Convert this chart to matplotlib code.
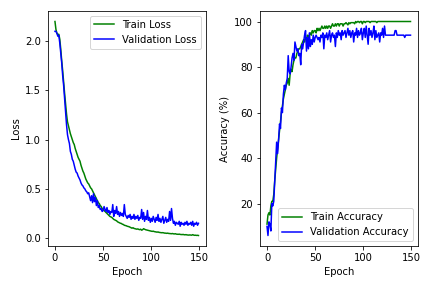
import matplotlib
matplotlib.use("Agg")
import matplotlib.pyplot as plt
import numpy as np

train_loss = [
    2.20, 2.12, 2.08, 2.07, 2.07, 2.02, 1.92, 1.80, 1.70, 1.58,
    1.47, 1.36, 1.26, 1.18, 1.14, 1.10, 1.06, 1.03, 1.00, 0.97,
    0.95, 0.91, 0.88, 0.85, 0.82, 0.80, 0.78, 0.74, 0.71, 0.68,
    0.66, 0.63, 0.60, 0.58, 0.56, 0.55, 0.53, 0.51, 0.50, 0.48,
    0.46, 0.44, 0.42, 0.40, 0.38, 0.36, 0.35, 0.33, 0.32, 0.30,
    0.29, 0.28, 0.27, 0.26, 0.25, 0.24, 0.23, 0.22, 0.215, 0.21,
    0.20, 0.19, 0.185, 0.18, 0.175, 0.165, 0.16, 0.155, 0.15, 0.148,
    0.14, 0.138, 0.13, 0.128, 0.125, 0.12, 0.118, 0.115, 0.11, 0.105,
    0.10, 0.105, 0.098, 0.095, 0.092, 0.09, 0.093, 0.088, 0.085, 0.09,
    0.08, 0.085, 0.095, 0.09, 0.085, 0.082, 0.08, 0.078, 0.075, 0.072,
    0.07, 0.068, 0.07, 0.066, 0.064, 0.062, 0.06, 0.062, 0.058, 0.056,
    0.055, 0.054, 0.055, 0.052, 0.05, 0.05, 0.048, 0.05, 0.047, 0.046,
    0.045, 0.044, 0.046, 0.043, 0.042, 0.044, 0.04, 0.039, 0.038, 0.04,
    0.037, 0.036, 0.035, 0.037, 0.034, 0.033, 0.035, 0.032, 0.031, 0.03,
    0.032, 0.03, 0.029, 0.035, 0.03, 0.028, 0.029, 0.027, 0.028, 0.026,
]
val_loss = [
    2.10, 2.10, 2.08, 2.05, 2.06, 1.98, 1.88, 1.78, 1.65, 1.55,
    1.42, 1.30, 1.15, 1.05, 1.00, 0.96, 0.88, 0.85, 0.80, 0.78,
    0.74, 0.70, 0.67, 0.66, 0.63, 0.61, 0.59, 0.56, 0.54, 0.53,
    0.51, 0.50, 0.48, 0.47, 0.45, 0.46, 0.42, 0.38, 0.43, 0.36,
    0.45, 0.37, 0.41, 0.33, 0.38, 0.31, 0.33, 0.29, 0.30, 0.27,
    0.28, 0.32, 0.29, 0.27, 0.31, 0.26, 0.28, 0.24, 0.27, 0.26,
    0.34, 0.22, 0.28, 0.25, 0.32, 0.24, 0.27, 0.22, 0.26, 0.23,
    0.25, 0.22, 0.34, 0.24, 0.22, 0.20, 0.23, 0.21, 0.24, 0.19,
    0.22, 0.20, 0.24, 0.19, 0.22, 0.20, 0.23, 0.18, 0.21, 0.20,
    0.29, 0.19, 0.26, 0.17, 0.22, 0.19, 0.28, 0.18, 0.21, 0.16,
    0.20, 0.17, 0.22, 0.19, 0.16, 0.21, 0.18, 0.24, 0.17, 0.20,
    0.16, 0.19, 0.22, 0.15, 0.18, 0.21, 0.16, 0.19, 0.17, 0.27,
    0.18, 0.30, 0.20, 0.15, 0.17, 0.13, 0.16, 0.15, 0.14, 0.17,
    0.12, 0.16, 0.14, 0.15, 0.13, 0.16, 0.14, 0.17, 0.13, 0.15,
    0.14, 0.16, 0.13, 0.17, 0.12, 0.15, 0.14, 0.16, 0.13, 0.15,
]
train_acc = [
    11, 15, 16, 15, 19, 21, 21, 24, 30, 35,
    40, 44, 48, 52, 56, 60, 63, 66, 68, 70,
    72, 73, 75, 72, 77, 79, 78, 81, 83, 84,
    84, 86, 87, 88, 88, 89, 90, 91, 92, 91,
    93, 92, 94, 93, 94, 95, 94, 96, 95, 96,
    96, 95, 97, 96, 97, 96, 97, 98, 97, 97,
    98, 97, 98, 97, 98, 98, 97, 98, 99, 98,
    98, 99, 98, 99, 99, 98, 99, 99, 99, 98,
    99, 99, 99.5, 99, 98.5, 99.5, 99, 99.5, 99.5, 99.5,
    99.5, 99, 100, 99.5, 100, 100, 99.5, 100, 100, 99,
    100, 100, 99.5, 100, 100, 100, 100, 99.5, 100, 100,
    100, 100, 100, 100, 99.5, 100, 100, 100, 100, 100,
    100, 100, 100, 100, 100, 100, 100, 100, 100, 100,
    100, 100, 100, 100, 100, 100, 100, 100, 100, 100,
    100, 100, 100, 100, 100, 100, 100, 100, 100, 100,
]
val_acc = [
    10, 6, 12, 11, 8, 20, 19, 21, 30, 38,
    47, 42, 48, 55, 53, 62, 60, 68, 72, 70,
    73, 75, 85, 78, 77, 80, 84, 86, 83, 91,
    89, 87, 88, 85, 86, 81, 90, 88, 91, 94,
    96, 87, 93, 88, 95, 89, 92, 90, 94, 91,
    93, 94, 93, 92, 93, 91, 94, 93, 95, 88,
    94, 93, 95, 92, 94, 96, 91, 94, 95, 93,
    94, 89, 95, 93, 96, 94, 95, 92, 96, 94,
    95, 96, 93, 95, 97, 94, 96, 93, 95, 96,
    91, 95, 94, 97, 93, 96, 94, 95, 97, 92,
    95, 97, 93, 98, 94, 90, 97, 94, 96, 93,
    95, 98, 92, 96, 93, 94, 95, 91, 95, 94,
    97, 93, 98, 94, 94, 94, 94, 94, 94, 94,
    94, 94, 94, 96, 96, 94, 94, 94, 94, 94,
    94, 94, 94, 93, 94, 94, 94, 94, 94, 94,
]
epochs = np.arange(len(train_loss))

fig, (ax1, ax2) = plt.subplots(1, 2, figsize=(6, 4), dpi=72)
ax1.plot(epochs, train_loss, color="green", label="Train Loss")
ax1.plot(epochs, val_loss, color="blue", label="Validation Loss")
ax1.set_xlabel("Epoch")
ax1.set_ylabel("Loss")
ax1.legend(loc="upper right")

ax2.plot(epochs, train_acc, color="green", label="Train Accuracy")
ax2.plot(epochs, val_acc, color="blue", label="Validation Accuracy")
ax2.set_xlabel("Epoch")
ax2.set_ylabel("Accuracy (%)")
ax2.legend(loc="lower right")

fig.tight_layout()
fig.savefig("out.png", dpi=72)
